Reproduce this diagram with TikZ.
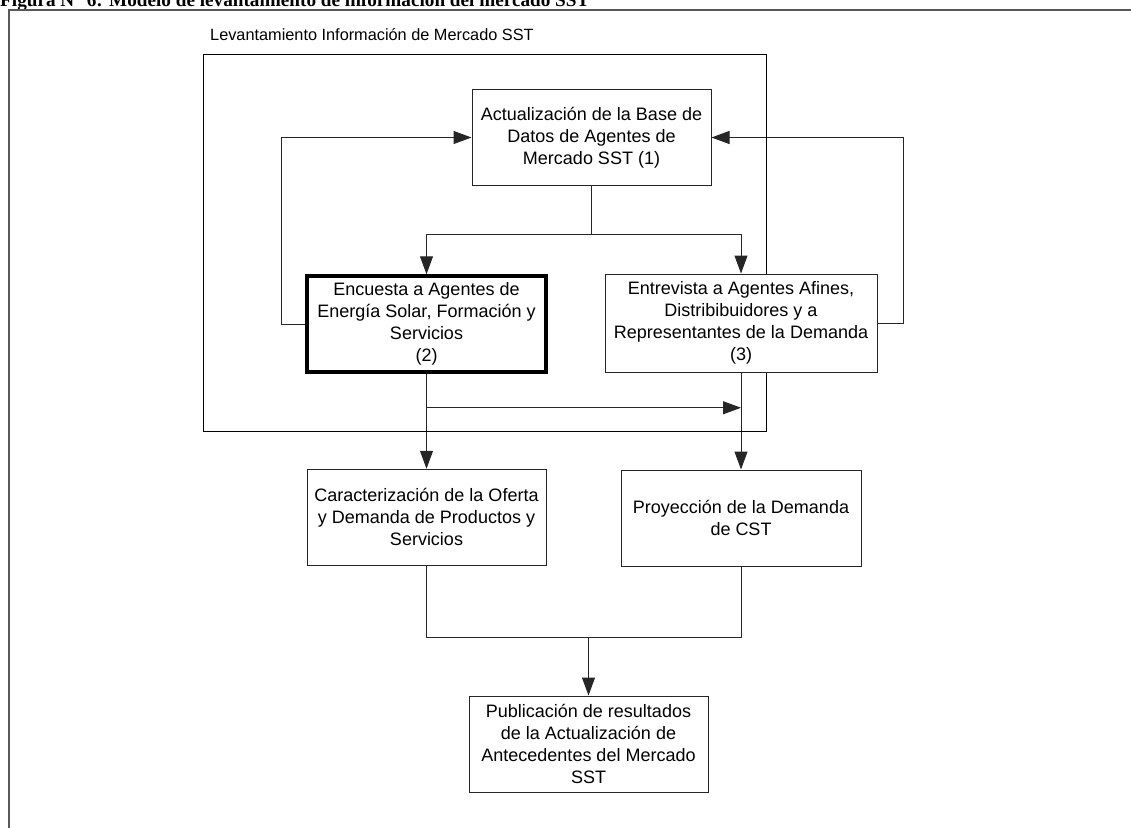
\documentclass[tikz,border=0pt]{standalone}
\usepackage{fontspec}
\setmainfont{Liberation Sans}
\newfontfamily\titulofont{Liberation Serif}
\usetikzlibrary{arrows.meta,positioning,backgrounds}
\tikzstyle{proceso}=[
	rectangle,
	draw=black!85,
	fill=white,
	line width=1pt,
	minimum width=239pt,
	minimum height=96pt,
	align=center,
	inner sep=2pt,
	font=\fontsize{18}{22}\selectfont
]
\tikzstyle{destacado}=[
	proceso,
	draw=black,
	line width=3.5pt
]
\tikzstyle{flujo}=[
	-{Triangle[length=18pt,width=13pt]},
	line width=1pt,
	draw=black!85
]
\tikzstyle{linea}=[
	line width=1pt,
	draw=black!85
]

\begin{document}
\begin{tikzpicture}[x=1pt,y=-1pt]
\useasboundingbox (0,0) rectangle (1131,827);
\clip (0,0) rectangle (1131,827);
% titulo cortado y marco exterior
\node [anchor=base west, inner sep=0pt, font=\titulofont\bfseries\fontsize{19.2}{23}\selectfont] (Titulo) at (0,6.5) {Figura N° 6: Modelo de levantamiento de información del mercado SST};
\draw [line width=2pt, draw=black!65] (9,860) -- (9,10) -- (1160,10);
% grupo de levantamiento
\node [draw=black, line width=1pt, minimum width=563pt, minimum height=377pt, inner sep=0pt] (Levantamiento) at (484.5,242.5) {};
\node [anchor=base west, inner sep=0pt, font=\fontsize{16.3}{20}\selectfont] (LevantamientoLabel) at (210,40) {Levantamiento Información de Mercado SST};
% procesos
\node [proceso] (Actualizacion) at (591.5,137.5) {Actualización de la Base de\\Datos de Agentes de\\Mercado SST (1)};
\node [destacado] (Encuesta) at (426.5,324) {Encuesta a Agentes de\\Energía Solar, Formación y\\Servicios\\(2)};
\node [proceso, minimum width=272pt, minimum height=98pt] (Entrevista) at (741,323) {Entrevista a Agentes Afines,\\Distribibuidores y a\\Representantes de la Demanda\\(3)};
\node [proceso] (Caracterizacion)[below=95pt of Encuesta.south, anchor=north] {Caracterización de la Oferta\\y Demanda de Productos y\\Servicios};
\node [proceso, minimum width=240pt] (Proyeccion)[below=97pt of Entrevista.south, anchor=north] {Proyección de la Demanda\\de CST};
\node [proceso] (Publicacion) at (588.5,744) {Publicación de resultados\\de la Actualización de\\Antecedentes del Mercado\\SST};
% conexiones
\begin{scope}[on background layer]
\draw [flujo] (Actualizacion.south) -- ++(0,48) -| (Encuesta.north);
\draw [flujo] (Actualizacion.south) -- ++(0,48) -| (Entrevista.north);
\draw [flujo] (Encuesta.west) -- ++(-24,0) |- (Actualizacion.west);
\draw [flujo] (Entrevista.east) -- ++(26,0) |- (Actualizacion.east);
\draw [flujo] (Encuesta.south) -- (Caracterizacion.north);
\draw [flujo] (Entrevista.south) -- (Proyeccion.north);
\path (Encuesta.south) -- ++(0,34) coordinate (Cruce);
\draw [flujo] (Cruce) -- (Cruce -| Entrevista.south);
\draw [linea] (Caracterizacion.south) -- ++(0,72) coordinate (Junta) -| (Proyeccion.south);
\draw [flujo] (Junta -| Publicacion.north) -- (Publicacion.north);
\end{scope}
\end{tikzpicture}
\end{document}
